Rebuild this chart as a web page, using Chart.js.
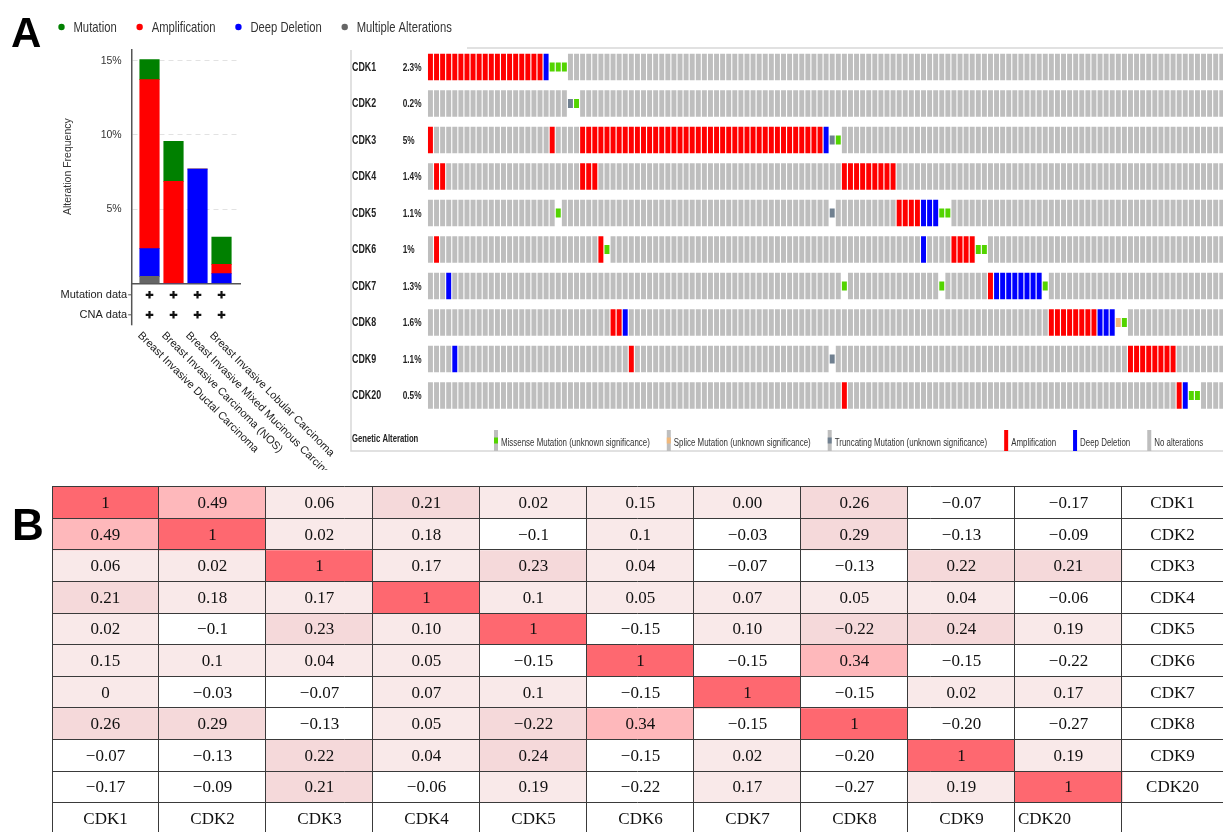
<!DOCTYPE html>
<html>
<head>
<meta charset="utf-8">
<title>CDK alterations</title>
<script src="https://cdn.jsdelivr.net/npm/chart.js@4.4.1/dist/chart.umd.min.js"></script>
<style>
  html, body { margin: 0; padding: 0; background: #fff; overflow: hidden; }
  body { width: 1223px; height: 832px; position: relative; }
  canvas { position: absolute; }
  #chart_freq { left: 0; top: 0; }
  #chart_onco { left: 345px; top: 40px; }
  #chart_corr { left: 0; top: 470px; }
</style>
</head>
<body>
<canvas id="chart_freq" width="470" height="470"></canvas>
<canvas id="chart_onco" width="878" height="425"></canvas>
<canvas id="chart_corr" width="1223" height="362"></canvas>
<script>
// ---- dados do painel A (frequencia por tipo de cancer)
const cancerTypes = [
  'Breast Invasive Ductal Carcinoma',
  'Breast Invasive Carcinoma (NOS)',
  'Breast Invasive Mixed Mucinous Carcinoma',
  'Breast Invasive Lobular Carcinoma'
]
const mutationFreq = [1.35, 2.7, 0, 1.84]
const amplificationFreq = [11.38, 6.87, 0, 0.63]
const deepDeletionFreq = [1.87, 0, 7.7, 0.65]
const multipleFreq = [0.47, 0, 0, 0]
const freqTicks = [5, 10, 15]
const profileRows = ['Mutation data', 'CNA data']

// ---- oncoprint (colunas = amostras alteradas)
const genes = ['CDK1', 'CDK2', 'CDK3', 'CDK4', 'CDK5', 'CDK6', 'CDK7', 'CDK8', 'CDK9', 'CDK20']
const alteredPct = ['2.3%', '0.2%', '5%', '1.4%', '1.1%', '1%', '1.3%', '1.6%', '1.1%', '0.5%']
const sampleCount = 131
const ampCols = [
  [0, 1, 2, 3, 4, 5, 6, 7, 8, 9, 10, 11, 12, 13, 14, 15, 16, 17, 18],
  [],
  [0, 20, 25, 26, 27, 28, 29, 30, 31, 32, 33, 34, 35, 36, 37, 38, 39, 40, 41, 42, 43, 44, 45, 46, 47, 48, 49, 50, 51, 52, 53, 54, 55, 56, 57, 58, 59, 60, 61, 62, 63, 64],
  [1, 2, 25, 26, 27, 68, 69, 70, 71, 72, 73, 74, 75, 76],
  [77, 78, 79, 80],
  [1, 28, 86, 87, 88, 89],
  [92],
  [30, 31, 102, 103, 104, 105, 106, 107, 108, 109],
  [33, 115, 116, 117, 118, 119, 120, 121, 122],
  [68, 123]
]
const delCols = [[19], [], [65], [], [81, 82, 83], [81], [3, 93, 94, 95, 96, 97, 98, 99, 100], [32, 110, 111, 112], [4], [124]]
const missenseCols = [[20, 21, 22], [24], [67], [], [21, 84, 85], [29, 90, 91], [68, 84, 101], [114], [], [125, 126]]
const truncCols = [[], [23], [66], [], [66], [], [], [], [66], []]
const spliceCols = [[], [], [], [], [], [], [], [113], [], []]

// ---- painel B (correlacao)
const corrValues = [
  ['1', '0.49', '0.06', '0.21', '0.02', '0.15', '0.00', '0.26', '-0.07', '-0.17'],
  ['0.49', '1', '0.02', '0.18', '-0.1', '0.1', '-0.03', '0.29', '-0.13', '-0.09'],
  ['0.06', '0.02', '1', '0.17', '0.23', '0.04', '-0.07', '-0.13', '0.22', '0.21'],
  ['0.21', '0.18', '0.17', '1', '0.1', '0.05', '0.07', '0.05', '0.04', '-0.06'],
  ['0.02', '-0.1', '0.23', '0.10', '1', '-0.15', '0.10', '-0.22', '0.24', '0.19'],
  ['0.15', '0.1', '0.04', '0.05', '-0.15', '1', '-0.15', '0.34', '-0.15', '-0.22'],
  ['0', '-0.03', '-0.07', '0.07', '0.1', '-0.15', '1', '-0.15', '0.02', '0.17'],
  ['0.26', '0.29', '-0.13', '0.05', '-0.22', '0.34', '-0.15', '1', '-0.20', '-0.27'],
  ['-0.07', '-0.13', '0.22', '0.04', '0.24', '-0.15', '0.02', '-0.20', '1', '0.19'],
  ['-0.17', '-0.09', '0.21', '-0.06', '0.19', '-0.22', '0.17', '-0.27', '0.19', '1']
]
// cells that were shaded by hand in the original table
const shadeOverrides = [[4, 7], [7, 4]]

const SANS = '"Liberation Sans", Arial, sans-serif'
const SERIF = '"Liberation Serif", "Times New Roman", serif'

Chart.defaults.font.family = SANS

const ONCO = {
  none: '#bebebe',
  amp: '#ff0000',
  del: '#0000ff',
  missense: '#53d400',
  splice: '#f0b87b',
  trunc: '#708090'
}
const CELL_H = 0.356
const GLYPH_H = 0.115

function toPoints(values) {
  return values.map((v, i) => ({ x: i, y: v }))
}

function cells(colsByGene, half) {
  const out = []
  colsByGene.forEach((cols, g) => cols.forEach(c => out.push({ x: c, y: [g - half, g + half] })))
  return out
}

function unalteredCells() {
  const out = []
  genes.forEach((gene, g) => {
    const altered = new Set([...ampCols[g], ...delCols[g], ...missenseCols[g], ...truncCols[g], ...spliceCols[g]])
    for (let c = 0; c < sampleCount; c++) {
      if (!altered.has(c)) out.push({ x: c, y: [g - CELL_H, g + CELL_H] })
    }
  })
  return out
}

function cellColor(value, r, c) {
  if (value >= 1) return '#fe6870'
  if (shadeOverrides.some(o => o[0] == r && o[1] == c)) return '#f5d9da'
  if (value >= 0.3) return '#feb8bb'
  if (value >= 0.2) return '#f5d9da'
  if (value >= 0) return '#f9e9e9'
  return '#ffffff'
}

// no narrow font installed, so squeeze Liberation Sans horizontally
function narrowText(ctx, text, x, y, font, sx) {
  ctx.save()
  ctx.font = font
  ctx.translate(x, y)
  ctx.scale(sx, 1)
  ctx.fillText(text, 0, 0)
  const w = ctx.measureText(text).width * sx
  ctx.restore()
  return w
}

// ---------------- PAINEL A: barras empilhadas
const panelAExtras = {
  id: 'panelAExtras',
  afterDraw(chart) {
    const { ctx, chartArea, scales: { x } } = chart
    ctx.save()

    ctx.fillStyle = '#000'
    ctx.font = `bold 42px ${SANS}`
    ctx.textAlign = 'left'
    ctx.textBaseline = 'alphabetic'
    ctx.fillText('A', 11, 47)

    // legenda de cima
    let lx = 61.5
    ctx.textBaseline = 'middle'
    chart.data.datasets.slice().reverse().forEach(ds => {
      ctx.fillStyle = ds.backgroundColor
      ctx.beginPath()
      ctx.arc(lx, 27, 3.2, 0, Math.PI * 2)
      ctx.fill()
      ctx.fillStyle = '#333'
      const w = narrowText(ctx, ds.label, lx + 12, 28, `15px ${SANS}`, 0.75)
      lx += 12 + w + 23
    })

    // eixo continua ate as linhas de perfil
    const axisX = chartArea.left
    ctx.strokeStyle = '#555'
    ctx.lineWidth = 1.5
    ctx.beginPath()
    ctx.moveTo(axisX, chartArea.bottom)
    ctx.lineTo(axisX, chartArea.bottom + 42)
    ctx.stroke()

    ctx.font = `11px ${SANS}`
    ctx.fillStyle = '#222'
    profileRows.forEach((label, i) => {
      const ry = chartArea.bottom + 11.5 + i * 20
      ctx.textAlign = 'right'
      ctx.fillText(label, axisX - 4.5, ry)
      ctx.lineWidth = 1
      ctx.beginPath()
      ctx.moveTo(axisX - 3.5, ry)
      ctx.lineTo(axisX, ry)
      ctx.stroke()
      ctx.lineWidth = 2.2
      ctx.strokeStyle = '#111'
      cancerTypes.forEach((t, j) => {
        const cx = x.getPixelForValue(j)
        ctx.beginPath()
        ctx.moveTo(cx - 3.8, ry)
        ctx.lineTo(cx + 3.8, ry)
        ctx.moveTo(cx, ry - 3.8)
        ctx.lineTo(cx, ry + 3.8)
        ctx.stroke()
      })
      ctx.strokeStyle = '#555'
    })

    // nomes rotacionados
    ctx.font = `11px ${SANS}`
    ctx.textAlign = 'left'
    ctx.textBaseline = 'middle'
    ctx.fillStyle = '#222'
    cancerTypes.forEach((name, j) => {
      ctx.save()
      ctx.translate(x.getPixelForValue(j) - 10, chartArea.bottom + 50.5)
      ctx.rotate(Math.PI / 4)
      ctx.fillText(name, 0, 0)
      ctx.restore()
    })
    ctx.restore()
  }
}

new Chart(document.getElementById('chart_freq'), {
  type: 'bar',
  data: {
    datasets: [
      { label: 'Multiple Alterations', data: toPoints(multipleFreq), backgroundColor: '#666666' },
      { label: 'Deep Deletion', data: toPoints(deepDeletionFreq), backgroundColor: '#0000ff' },
      { label: 'Amplification', data: toPoints(amplificationFreq), backgroundColor: '#ff0000' },
      { label: 'Mutation', data: toPoints(mutationFreq), backgroundColor: '#008000' }
    ]
  },
  options: {
    responsive: false,
    animation: false,
    datasets: { bar: { barThickness: 19.5 } },
    layout: { padding: { left: 0, right: 230, top: 50, bottom: 186.7 } },
    plugins: { legend: { display: false }, tooltip: { enabled: false } },
    scales: {
      x: {
        type: 'linear', stacked: true, offset: false, min: -0.742, max: 3.77,
        ticks: { display: false },
        grid: { display: false, drawTicks: false, offset: false },
        border: { display: true, color: '#555', width: 1.5 }
      },
      y: {
        stacked: true, min: 0, max: 15.72,
        afterFit: s => { s.width = 131.7 },
        afterBuildTicks: s => { s.ticks = freqTicks.map(v => ({ value: v })) },
        ticks: { padding: 10, color: '#333', font: { size: 10.5 }, callback: v => v + '%' },
        grid: { color: '#e2e2e2', drawTicks: false },
        border: { color: '#555', width: 1.5, dash: [5, 4] },
        title: { display: true, text: 'Alteration Frequency', color: '#333', font: { size: 10.5 }, padding: { top: 62, bottom: 0 } }
      }
    }
  },
  plugins: [panelAExtras]
})

// ---------------- ONCOPRINT
const oncoExtras = {
  id: 'oncoExtras',
  beforeDraw(chart) {
    const { ctx } = chart
    ctx.save()
    ctx.strokeStyle = '#d8d8d8'
    ctx.lineWidth = 1.5
    ctx.beginPath()
    ctx.moveTo(122, 8)
    ctx.lineTo(chart.width, 8)
    ctx.moveTo(6, 10)
    ctx.lineTo(6, 411)
    ctx.lineTo(chart.width, 411)
    ctx.stroke()
    ctx.restore()
  },
  afterDraw(chart) {
    const { ctx, chartArea, scales: { y } } = chart
    ctx.save()
    ctx.fillStyle = '#222'
    ctx.textAlign = 'left'
    ctx.textBaseline = 'middle'
    genes.forEach((g, i) => narrowText(ctx, g, 7, y.getPixelForValue(i) + 0.5, `bold 12px ${SANS}`, 0.74))
    alteredPct.forEach((p, i) => narrowText(ctx, p, 57.7, y.getPixelForValue(i) + 0.5, `bold 11px ${SANS}`, 0.75))

    // legenda de baixo
    const top = chartArea.bottom + 16.25
    narrowText(ctx, 'Genetic Alteration', 7, top + 9, `bold 11px ${SANS}`, 0.7)
    let lx = 149
    const legendOrder = [3, 4, 5, 1, 2, 0]
    legendOrder.forEach(idx => {
      const ds = chart.data.datasets[idx]
      if (ds.glyph) {
        ctx.fillStyle = ONCO.none
        ctx.fillRect(lx, top, 4, 21)
        ctx.fillStyle = ds.backgroundColor
        ctx.fillRect(lx, top + 7.5, 4, 6)
      } else {
        ctx.fillStyle = ds.backgroundColor
        ctx.fillRect(lx, top, 4, 21)
      }
      ctx.fillStyle = '#333'
      const w = narrowText(ctx, ds.label, lx + 7, top + 13, `11px ${SANS}`, 0.72)
      lx += 7 + w + 17
    })
    ctx.restore()
  }
}

new Chart(document.getElementById('chart_onco'), {
  type: 'bar',
  data: {
    datasets: [
      { label: 'No alterations', data: unalteredCells(), backgroundColor: ONCO.none },
      { label: 'Amplification', data: cells(ampCols, CELL_H), backgroundColor: ONCO.amp },
      { label: 'Deep Deletion', data: cells(delCols, CELL_H), backgroundColor: ONCO.del },
      { label: 'Missense Mutation (unknown significance)', data: cells(missenseCols, GLYPH_H), backgroundColor: ONCO.missense, glyph: true },
      { label: 'Splice Mutation (unknown significance)', data: cells(spliceCols, GLYPH_H), backgroundColor: ONCO.splice, glyph: true },
      { label: 'Truncating Mutation (unknown significance)', data: cells(truncCols, GLYPH_H), backgroundColor: ONCO.trunc, glyph: true }
    ]
  },
  options: {
    responsive: false,
    animation: false,
    datasets: { bar: { grouped: false, barThickness: 4.3, borderWidth: 0 } },
    layout: { padding: { left: 82.4, right: 0, top: 8.75, bottom: 51.25 } },
    plugins: { legend: { display: false }, tooltip: { enabled: false } },
    scales: {
      x: { type: 'linear', offset: false, min: -0.5, max: 130.2, display: false, grid: { offset: false } },
      y: { type: 'linear', reverse: true, min: -0.5, max: 9.5, display: false }
    }
  },
  plugins: [oncoExtras]
})

// ---------------- PAINEL B: tabela de correlacao
const corrExtras = {
  id: 'corrExtras',
  afterDraw(chart) {
    const { ctx, chartArea, scales: { x, y } } = chart
    ctx.save()
    ctx.fillStyle = '#000'
    ctx.font = `bold 44px ${SANS}`
    ctx.textAlign = 'left'
    ctx.textBaseline = 'alphabetic'
    ctx.fillText('B', 12, 70)

    ctx.font = `17px ${SERIF}`
    ctx.fillStyle = '#111'
    ctx.textAlign = 'center'
    ctx.textBaseline = 'middle'
    corrValues.forEach((row, r) => row.forEach((v, c) => {
      ctx.fillText(v.replace('-', '\u2212'), x.getPixelForValue(c + 0.5), y.getPixelForValue(r + 0.5) + 1)
    }))
    const labelX = (x.getPixelForValue(genes.length) + chartArea.right) / 2
    genes.forEach((g, r) => ctx.fillText(g, labelX, y.getPixelForValue(r + 0.5) + 1))
    const headY = y.getPixelForValue(genes.length + 0.5) + 1
    genes.forEach((g, c) => {
      if (c == genes.length - 1) {
        ctx.textAlign = 'left'
        ctx.fillText(g, x.getPixelForValue(c) + 3, headY)
      } else {
        ctx.textAlign = 'center'
        ctx.fillText(g, x.getPixelForValue(c + 0.5), headY)
      }
    })
    ctx.restore()
  }
}

const corrDatasets = corrValues.map((row, r) => ({
  label: genes[r],
  data: row.map((v, c) => ({ x: c + 0.5, y: [r, r + 1] })),
  backgroundColor: row.map((v, c) => cellColor(parseFloat(v), r, c)),
  borderWidth: 0
}))

new Chart(document.getElementById('chart_corr'), {
  type: 'bar',
  data: { datasets: corrDatasets },
  options: {
    responsive: false,
    animation: false,
    datasets: { bar: { grouped: false, barPercentage: 1, categoryPercentage: 1 } },
    layout: { padding: { left: 52, right: 0, top: 16.7, bottom: 0 } },
    plugins: { legend: { display: false }, tooltip: { enabled: false } },
    scales: {
      x: {
        type: 'linear', offset: false, min: 0, max: 10.944,
        ticks: { display: false, stepSize: 1, includeBounds: false },
        grid: { color: '#3a3a3a', lineWidth: 1, drawTicks: false, offset: false, z: 1 },
        border: { display: false }
      },
      y: {
        type: 'linear', reverse: true, min: 0, max: 10.927,
        ticks: { display: false, stepSize: 1, includeBounds: false },
        grid: { color: '#3a3a3a', lineWidth: 1, drawTicks: false, z: 1 },
        border: { display: false }
      }
    }
  },
  plugins: [corrExtras]
})
</script>
</body>
</html>
